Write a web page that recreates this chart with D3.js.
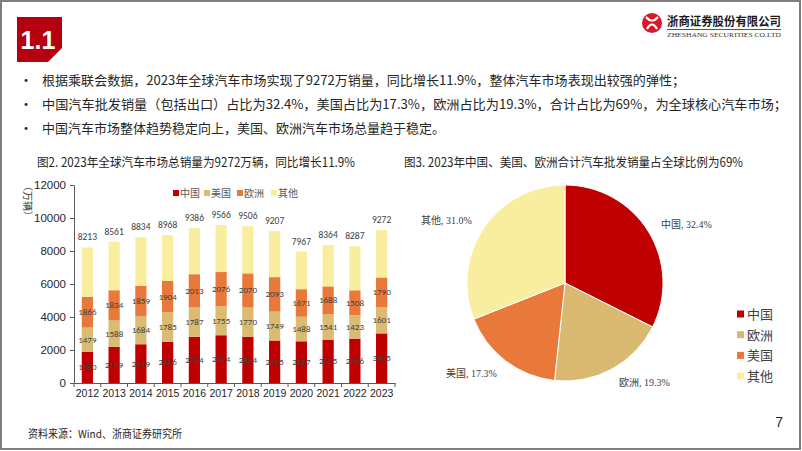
<!DOCTYPE html>
<html>
<head>
<meta charset="utf-8">
<script src="https://cdn.jsdelivr.net/npm/d3@7"></script>
<style>
  html, body { margin: 0; padding: 0; background: #fff; }
  svg { display: block; }
  text { font-family: "Noto Sans CJK SC", "Liberation Sans", sans-serif; }
</style>
</head>
<body>
<div id="page"></div>
<script>
// data
const years = ["2012", "2013", "2014", "2015", "2016", "2017", "2018", "2019", "2020", "2021", "2022", "2023"];
const china = [1880, 2199, 2349, 2496, 2794, 2894, 2804, 2575, 2527, 2625, 2686, 3005];
const usa = [1479, 1588, 1684, 1785, 1787, 1755, 1770, 1749, 1488, 1541, 1423, 1601];
const europe = [1866, 1834, 1859, 1904, 2013, 2076, 2070, 2093, 1671, 1688, 1508, 1790];
const totals = [8213, 8561, 8834, 8968, 9386, 9566, 9506, 9207, 7967, 8364, 8287, 9272];
const yTicks = [0, 2000, 4000, 6000, 8000, 10000, 12000];

const pieNames = ["中国", "欧洲", "美国", "其他"];
const pieShares = [32.4, 19.3, 17.3, 31.0];

const bullets = [
  "根据乘联会数据，2023年全球汽车市场实现了9272万销量，同比增长11.9%，整体汽车市场表现出较强的弹性；",
  "中国汽车批发销量（包括出口）占比为32.4%，美国占比为17.3%，欧洲占比为19.3%，合计占比为69%，为全球核心汽车市场；",
  "中国汽车市场整体趋势稳定向上，美国、欧洲汽车市场总量趋于稳定。"
];

const width = 802, height = 451;
const svg = d3.select("#page").append("svg")
  .attr("width", width)
  .attr("height", height);

// page frame
svg.append("rect")
  .attr("x", 1).attr("y", 1)
  .attr("width", width - 3).attr("height", height - 3)
  .attr("fill", "none").attr("stroke", "#7f7f7f").attr("stroke-width", 2);

// section badge
svg.append("path")
  .attr("d", "M17,17 H62 V48 L48,62 H17 Z")
  .attr("fill", "#b5000f");
svg.append("text")
  .attr("x", 38).attr("y", 49)
  .attr("text-anchor", "middle")
  .attr("fill", "#fff")
  .style("font-family", "Arial, 'Liberation Sans'")
  .style("font-weight", "bold")
  .style("font-size", "25px")
  .text("1.1");

// logo
const logo = svg.append("g");
logo.append("circle").attr("cx", 652).attr("cy", 23).attr("r", 10).attr("fill", "#d7182a");
logo.append("path")
  .attr("d", "M646,17 Q652,24 658,17 M647,29 Q652,20 657,29")
  .attr("fill", "none").attr("stroke", "#fff").attr("stroke-width", 2.2);
logo.append("text")
  .attr("x", 667).attr("y", 26)
  .attr("textLength", 114).attr("lengthAdjust", "spacingAndGlyphs")
  .attr("fill", "#1a1a1a")
  .style("font-size", "12px").style("font-weight", "bold")
  .text("浙商证券股份有限公司");
logo.append("line")
  .attr("x1", 667).attr("x2", 781).attr("y1", 29.5).attr("y2", 29.5)
  .attr("stroke", "#d7182a").attr("stroke-width", 1);
logo.append("text")
  .attr("x", 667).attr("y", 37)
  .attr("textLength", 114).attr("lengthAdjust", "spacingAndGlyphs")
  .attr("fill", "#333")
  .style("font-family", "'Liberation Serif', serif")
  .style("font-size", "7px")
  .text("ZHESHANG SECURITIES CO.LTD");

// bullet lines
const lineEnds = [685, 787, 445];
bullets.forEach((t, i) => {
  const y = 85 + i * 24;
  svg.append("text").attr("x", 19).attr("y", y)
    .attr("fill", "#262626").style("font-size", "14px").text("•");
  svg.append("text").attr("x", 42).attr("y", y)
    .attr("textLength", lineEnds[i] - 42).attr("lengthAdjust", "spacingAndGlyphs")
    .attr("fill", "#262626").style("font-size", "13px").text(t);
});

// chart titles
svg.append("text").attr("x", 37).attr("y", 167)
  .attr("textLength", 318).attr("lengthAdjust", "spacingAndGlyphs")
  .attr("fill", "#262626").style("font-size", "12.5px")
  .text("图2. 2023年全球汽车市场总销量为9272万辆，同比增长11.9%");
svg.append("text").attr("x", 404).attr("y", 167)
  .attr("textLength", 339).attr("lengthAdjust", "spacingAndGlyphs")
  .attr("fill", "#262626").style("font-size", "12.5px")
  .text("图3. 2023年中国、美国、欧洲合计汽车批发销量占全球比例为69%");

// ---------- stacked bar chart ----------
const barColors = ["#c00000", "#d9bb72", "#e8793b", "#f9ee9f"];
const barKeys = ["中国", "美国", "欧洲", "其他"];

const rows = years.map((yr, i) => ({
  year: yr,
  "中国": china[i],
  "美国": usa[i],
  "欧洲": europe[i],
  "其他": totals[i] - china[i] - usa[i] - europe[i],
  total: totals[i]
}));

const x = d3.scaleBand()
  .domain(years)
  .range([74, 395])
  .paddingInner(0.58)
  .paddingOuter(0.29);

const y = d3.scaleLinear()
  .domain([0, 12000])
  .range([383, 185]);

const stack = d3.stack().keys(barKeys)(rows);

const bars = svg.append("g");
stack.forEach((layer, li) => {
  bars.selectAll(null)
    .data(layer)
    .join("rect")
    .attr("x", d => x(d.data.year))
    .attr("width", x.bandwidth())
    .attr("y", d => y(d[1]))
    .attr("height", d => y(d[0]) - y(d[1]))
    .attr("fill", barColors[li]);
});

// segment labels (not for 其他)
stack.slice(0, 3).forEach(layer => {
  bars.selectAll(null)
    .data(layer)
    .join("text")
    .attr("x", d => x(d.data.year) + x.bandwidth() / 2)
    .attr("y", d => y((d[0] + d[1]) / 2) + 3)
    .attr("text-anchor", "middle")
    .attr("fill", "#404040")
    .style("font-family", "Calibri, Carlito, 'Liberation Sans', sans-serif")
    .style("font-size", "9px")
    .text(d => d[1] - d[0]);
});

// totals
bars.selectAll(null)
  .data(rows)
  .join("text")
  .attr("x", d => x(d.year) + x.bandwidth() / 2)
  .attr("y", d => y(d.total) - 7)
  .attr("text-anchor", "middle")
  .attr("fill", "#404040")
  .style("font-family", "Calibri, Carlito, 'Liberation Sans', sans-serif")
  .style("font-size", "9.5px")
  .text(d => d.total);

// y axis
const yAxis = svg.append("g")
  .attr("transform", "translate(74,0)")
  .call(d3.axisLeft(y).tickValues(yTicks).tickFormat(d3.format("d")).tickSize(4).tickPadding(4));
yAxis.select(".domain").attr("stroke", "#595959");
yAxis.selectAll(".tick line").attr("stroke", "#595959");
yAxis.selectAll(".tick text")
  .attr("fill", "#262626")
  .style("font-family", "Arial, 'Liberation Sans'")
  .style("font-size", "11.5px");

// x axis
const xAxis = svg.append("g")
  .attr("transform", "translate(0,383)")
  .call(d3.axisBottom(x).tickSize(0).tickPadding(7));
xAxis.select(".domain").attr("stroke", "#595959");
xAxis.selectAll(".tick text")
  .attr("fill", "#262626")
  .style("font-family", "Arial, 'Liberation Sans'")
  .style("font-size", "10.5px");
// category separators
const step = x.step();
svg.append("g").selectAll("line")
  .data(d3.range(years.length + 1))
  .join("line")
  .attr("x1", i => 74 + i * step).attr("x2", i => 74 + i * step)
  .attr("y1", 383).attr("y2", 387)
  .attr("stroke", "#595959");

// y unit label
svg.append("text")
  .attr("transform", "translate(24,181) rotate(90)")
  .attr("fill", "#404040")
  .style("font-size", "10px")
  .text("（万辆）");

// bar legend
const barLegendX = [173, 204, 237, 271];
const bl = svg.append("g");
barKeys.forEach((k, i) => {
  bl.append("rect").attr("x", barLegendX[i]).attr("y", 190)
    .attr("width", 6).attr("height", 6).attr("fill", barColors[i]);
  bl.append("text").attr("x", barLegendX[i] + 7).attr("y", 197)
    .attr("fill", "#595959")
    .style("font-family", "'Liberation Serif', 'Noto Sans CJK SC', serif")
    .style("font-size", "10px")
    .text(k);
});

// ---------- pie ----------
const pieColors = ["#c00000", "#d8b96f", "#e8793b", "#f9ee9f"];
const cx = 565, cy = 283, r = 98;
const pie = d3.pie().sort(null).value(d => d.v);
const arcs = pie(pieNames.map((n, i) => ({ name: n, v: pieShares[i] })));
const arc = d3.arc().innerRadius(0).outerRadius(r);
const labelArc = d3.arc().innerRadius(r * 1.15).outerRadius(r * 1.15);

const pg = svg.append("g").attr("transform", `translate(${cx},${cy})`);
pg.selectAll("path")
  .data(arcs)
  .join("path")
  .attr("d", arc)
  .attr("fill", (d, i) => pieColors[i])
  .attr("stroke", "#fff")
  .attr("stroke-width", 1);

pg.selectAll("text")
  .data(arcs)
  .join("text")
  .attr("x", d => labelArc.centroid(d)[0])
  .attr("y", d => labelArc.centroid(d)[1] + 4)
  .attr("text-anchor", d => labelArc.centroid(d)[0] > 0 ? "start" : "end")
  .attr("fill", "#404040")
  .style("font-family", "'Liberation Serif', 'Noto Sans CJK SC', serif")
  .style("font-size", "10px")
  .text(d => `${d.data.name}, ${d.data.v.toFixed(1)}%`);

// pie legend
const pl = svg.append("g");
pieNames.forEach((n, i) => {
  const ly = 314 + i * 20.7;
  pl.append("rect").attr("x", 737).attr("y", ly - 3.5)
    .attr("width", 7).attr("height", 7).attr("fill", pieColors[i]);
  pl.append("text").attr("x", 747).attr("y", ly + 5)
    .attr("fill", "#404040")
    .style("font-family", "'Liberation Serif', 'Noto Sans CJK SC', serif")
    .style("font-size", "13px")
    .text(n);
});

// footer
svg.append("text").attr("x", 28).attr("y", 438)
  .attr("textLength", 154).attr("lengthAdjust", "spacingAndGlyphs")
  .attr("fill", "#262626").style("font-size", "11px")
  .text("资料来源：Wind、浙商证券研究所");
svg.append("text").attr("x", 783).attr("y", 427)
  .attr("text-anchor", "end")
  .attr("fill", "#262626")
  .style("font-family", "Arial, 'Liberation Sans'")
  .style("font-size", "14px")
  .text("7");
</script>
</body>
</html>
